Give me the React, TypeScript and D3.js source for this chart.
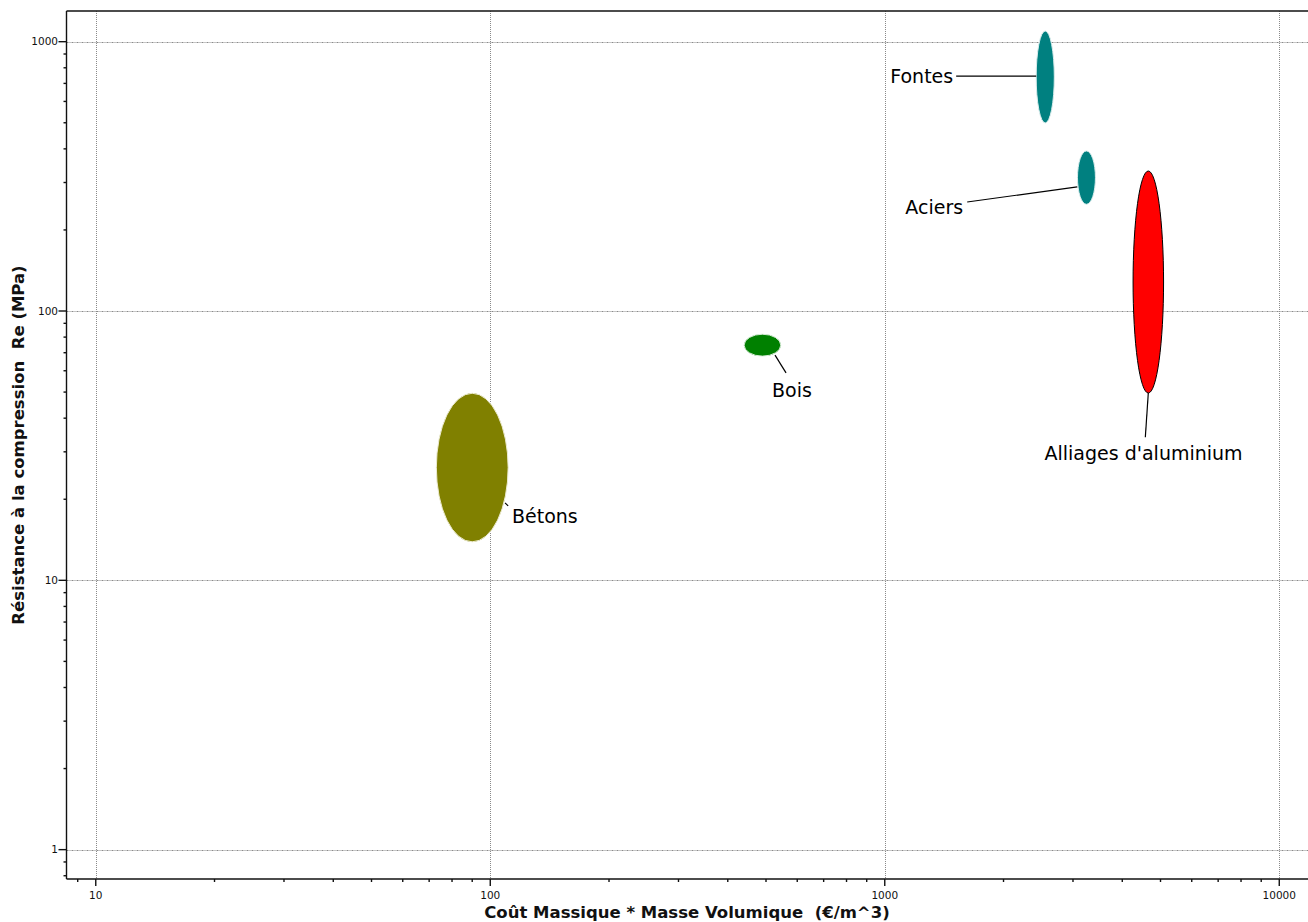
import React, { useEffect, useRef } from "react";
import * as d3 from "d3";

// Material families: cost per volume (€/m^3) range and compressive strength Re (MPa) range
const materials = ["Fontes", "Aciers", "Alliages d'aluminium", "Bois", "Bétons"];
const costMin = [2420, 3080, 4260, 440, 73];
const costMax = [2690, 3420, 5090, 545, 111];
const reMin = [499, 249, 49.6, 68, 13.9];
const reMax = [1096, 393, 331, 82, 49.5];
const fills = ["#008080", "#008080", "#ff0000", "#008000", "#808000"];
const outlines = ["#d8ecec", "#d8ecec", "#000000", "#d8ecd8", "#ecebd0"];

// Label anchors and leader lines, in data units (cost, Re)
const labelCost = [1491, 1580, 4529, 518, 113.5];
const labelRe = [702, 229, 28.0, 47.9, 16.3];
const labelAnchor = ["end", "end", "middle", "start", "start"];
const leaderFromCost = [1517, 1618, 4656, 527, 109];
const leaderFromRe = [745, 254, 49.6, 68.6, 19.4];
const leaderToCost = [2420, 3076, 4576, 562, 111];
const leaderToRe = [745, 289, 34.0, 58.9, 18.9];

// Axis ticks
const xTicks = [10, 100, 1000, 10000];
const yTicks = [1, 10, 100, 1000];
const xTitle = "Coût Massique * Masse Volumique  (€/m^3)";
const yTitle = "Résistance à la compression  Re (MPa)";

const W = 1308;
const H = 922;
const FONT = "'DejaVu Sans', Verdana, sans-serif";

export default function App() {
  const ref = useRef<SVGSVGElement | null>(null);

  useEffect(() => {
    const svg = d3.select(ref.current);
    svg.selectAll("*").remove();

    const left = 66.5, right = 1310.5, top = 11, bottom = 879;
    const x = d3.scaleLog().domain([8.43, 12000]).range([left, right]);
    const y = d3.scaleLog().domain([0.778, 1300]).range([bottom, top]);

    // minor ticks: 2..9 times each decade inside the domain
    const minorX: number[] = [];
    for (let e = 0; e <= 4; e++) for (let m = 2; m <= 9; m++) {
      const v = m * Math.pow(10, e);
      if (v >= 8.43 && v <= 12000) minorX.push(v);
    }
    const minorY: number[] = [];
    for (let e = -1; e <= 3; e++) for (let m = 2; m <= 9; m++) {
      const v = m * Math.pow(10, e);
      if (v >= 0.778 && v <= 1300) minorY.push(v);
    }

    // dotted grid at each decade
    const grid = svg.append("g").attr("stroke", "#8a8a8a").attr("stroke-width", 1);
    grid.selectAll("line.gx").data(xTicks).join("line").attr("class", "gx")
      .attr("stroke-dasharray", "1,1")
      .attr("x1", (d) => Math.round(x(d)) + 0.5).attr("x2", (d) => Math.round(x(d)) + 0.5)
      .attr("y1", top).attr("y2", bottom);
    grid.selectAll("line.gy").data(yTicks).join("line").attr("class", "gy")
      .attr("stroke-dasharray", "2,1,1,1")
      .attr("y1", (d) => Math.round(y(d)) + 0.5).attr("y2", (d) => Math.round(y(d)) + 0.5)
      .attr("x1", left).attr("x2", right);

    // ellipses
    const idx = materials.map((_, i) => i);
    svg.append("g").selectAll("ellipse").data(idx).join("ellipse")
      .attr("cx", (i) => (x(costMin[i]) + x(costMax[i])) / 2)
      .attr("cy", (i) => (y(reMin[i]) + y(reMax[i])) / 2)
      .attr("rx", (i) => (x(costMax[i]) - x(costMin[i])) / 2)
      .attr("ry", (i) => (y(reMin[i]) - y(reMax[i])) / 2)
      .attr("fill", (i) => fills[i])
      .attr("stroke", (i) => outlines[i])
      .attr("stroke-width", 1);

    // leader lines
    svg.append("g").selectAll("line").data(idx).join("line")
      .attr("x1", (i) => x(leaderFromCost[i])).attr("y1", (i) => y(leaderFromRe[i]))
      .attr("x2", (i) => x(leaderToCost[i])).attr("y2", (i) => y(leaderToRe[i]))
      .attr("stroke", "#000").attr("stroke-width", 1.2);

    // labels with white boxes behind
    const lab = svg.append("g");
    idx.forEach((i) => {
      const g = lab.append("g");
      const t = g.append("text")
        .attr("x", x(labelCost[i])).attr("y", y(labelRe[i]))
        .attr("text-anchor", labelAnchor[i])
        .attr("font-family", FONT).attr("font-size", 19).attr("fill", "#000")
        .text(materials[i]);
      const bb = (t.node() as SVGTextElement).getBBox();
      g.insert("rect", "text")
        .attr("x", bb.x - 2).attr("y", bb.y - 3)
        .attr("width", bb.width + 4).attr("height", bb.height + 6)
        .attr("fill", "#fff");
    });

    // axes frame
    const ax = svg.append("g").attr("stroke", "#111").attr("stroke-width", 1.4);
    ax.append("line").attr("x1", left).attr("x2", left).attr("y1", top).attr("y2", bottom);
    ax.append("line").attr("x1", left).attr("x2", right).attr("y1", bottom).attr("y2", bottom);
    ax.append("line").attr("x1", left).attr("x2", right).attr("y1", top).attr("y2", top);

    // ticks
    ax.selectAll("line.mx").data(minorX).join("line").attr("class", "mx")
      .attr("x1", (d) => x(d)).attr("x2", (d) => x(d)).attr("y1", bottom).attr("y2", bottom + 3);
    ax.selectAll("line.Mx").data(xTicks).join("line").attr("class", "Mx")
      .attr("x1", (d) => x(d)).attr("x2", (d) => x(d)).attr("y1", bottom).attr("y2", bottom + 7);
    ax.selectAll("line.my").data(minorY).join("line").attr("class", "my")
      .attr("y1", (d) => y(d)).attr("y2", (d) => y(d)).attr("x1", left).attr("x2", left - 3);
    ax.selectAll("line.My").data(yTicks).join("line").attr("class", "My")
      .attr("y1", (d) => y(d)).attr("y2", (d) => y(d)).attr("x1", left).attr("x2", left - 8);

    const tl = svg.append("g").attr("font-family", FONT).attr("font-size", 10.5).attr("fill", "#111");
    tl.selectAll("text.xl").data(xTicks).join("text").attr("class", "xl")
      .attr("x", (d) => x(d)).attr("y", bottom + 20).attr("text-anchor", "middle")
      .text((d) => String(d));
    tl.selectAll("text.yl").data(yTicks).join("text").attr("class", "yl")
      .attr("x", left - 8.5).attr("y", (d) => y(d)).attr("dy", "0.35em").attr("text-anchor", "end")
      .text((d) => String(d));

    // titles
    svg.append("text")
      .attr("x", 687).attr("y", 918).attr("text-anchor", "middle")
      .attr("font-family", FONT).attr("font-weight", "bold").attr("font-size", 16.5)
      .attr("fill", "#111").style("white-space", "pre")
      .text(xTitle);
    svg.append("text")
      .attr("transform", `translate(24,${(top + bottom) / 2}) rotate(-90)`)
      .attr("text-anchor", "middle")
      .attr("font-family", FONT).attr("font-weight", "bold").attr("font-size", 16.5)
      .attr("fill", "#111").style("white-space", "pre")
      .text(yTitle);
  }, []);

  return (
    <svg
      ref={ref}
      width={W}
      height={H}
      style={{ position: "absolute", left: 0, top: 0, background: "#fff", display: "block" }}
    />
  );
}
